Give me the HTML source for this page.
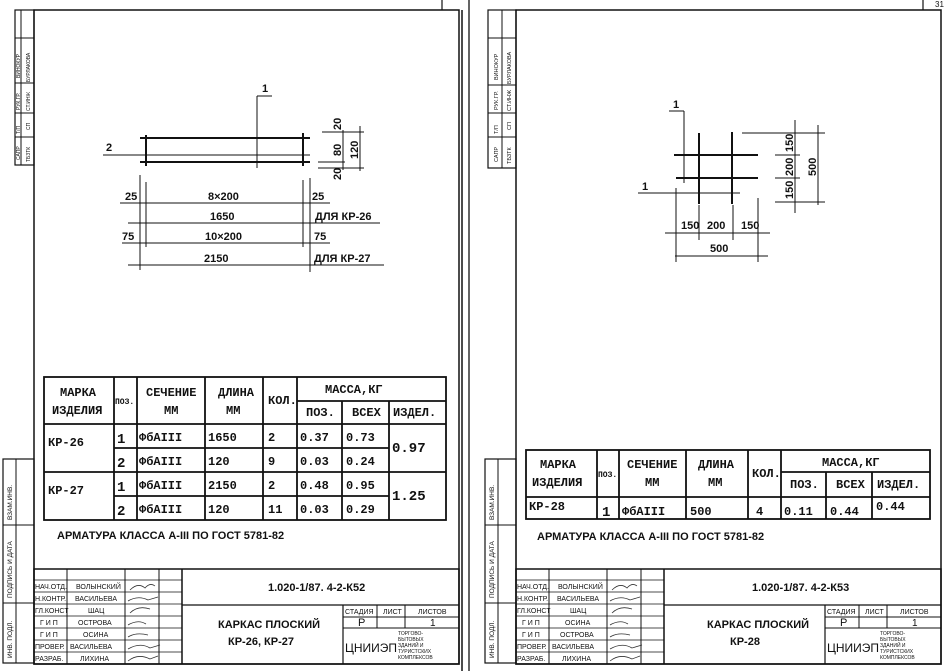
<!DOCTYPE html>
<html><head><meta charset="utf-8"><style>
html,body{margin:0;padding:0;background:#fff;}
svg{display:block;}
text{font-family:"Liberation Sans",sans-serif;fill:#111;}
.t{font-size:11px;font-weight:bold;}
.s{font-size:7px;}
text.m, .m text{font-family:"Liberation Mono",monospace;font-weight:bold;}
.m{font-size:12px;}
</style></head><body>
<svg width="950" height="671" viewBox="0 0 950 671" xmlns="http://www.w3.org/2000/svg">
<defs>
<g id="tb" stroke="#111" fill="none">
 <rect x="34" y="569" width="425" height="95" stroke-width="1.5"/>
 <line x1="182" y1="569" x2="182" y2="664" stroke-width="1.5"/>
 <line x1="67" y1="569" x2="67" y2="664" stroke-width="1"/>
 <line x1="125" y1="569" x2="125" y2="664" stroke-width="1"/>
 <line x1="159" y1="569" x2="159" y2="664" stroke-width="1"/>
 <g stroke-width="0.8">
 <line x1="34" y1="580" x2="182" y2="580"/><line x1="34" y1="592" x2="182" y2="592"/>
 <line x1="34" y1="604" x2="182" y2="604"/><line x1="34" y1="616" x2="182" y2="616"/>
 <line x1="34" y1="628" x2="182" y2="628"/><line x1="34" y1="640" x2="182" y2="640"/>
 <line x1="34" y1="652" x2="182" y2="652"/>
 </g>
 <line x1="182" y1="605" x2="459" y2="605" stroke-width="1.3"/>
 <line x1="343" y1="605" x2="343" y2="664" stroke-width="1.2"/>
 <line x1="377" y1="605" x2="377" y2="628" stroke-width="1"/>
 <line x1="405" y1="605" x2="405" y2="628" stroke-width="1"/>
 <line x1="343" y1="617" x2="459" y2="617" stroke-width="1"/>
 <line x1="343" y1="628" x2="459" y2="628" stroke-width="1"/>
 <rect x="3" y="459" width="31" height="204" stroke-width="1.2"/>
 <line x1="16" y1="459" x2="16" y2="663" stroke-width="1"/>
 <line x1="3" y1="525" x2="34" y2="525" stroke-width="1"/>
 <line x1="3" y1="603" x2="34" y2="603" stroke-width="1"/>
</g>
<g id="tbt">
 <g class="s" font-size="6.5">
 <text x="35" y="589">НАЧ.ОТД.</text><text x="35" y="601">Н.КОНТР.</text><text x="35" y="613">ГЛ.КОНСТ</text>
 <text x="40" y="625">Г И П</text><text x="40" y="637">Г И П</text><text x="35" y="649">ПРОВЕР.</text><text x="35" y="661">РАЗРАБ.</text>
 <text x="76" y="589">ВОЛЫНСКИЙ</text><text x="75" y="601">ВАСИЛЬЕВА</text><text x="88" y="613">ШАЦ</text>
 <text x="70" y="649">ВАСИЛЬЕВА</text><text x="80" y="661">ЛИХИНА</text>
 <text x="345" y="614">СТАДИЯ</text><text x="383" y="614">ЛИСТ</text><text x="418" y="614">ЛИСТОВ</text>
 </g>
 <text x="358" y="626" font-size="11">Р</text><text x="430" y="626" font-size="10">1</text>
 <text x="345" y="652" font-size="12">ЦНИИЭП</text>
 <g font-size="5"><text x="398" y="635">ТОРГОВО-</text><text x="398" y="641">БЫТОВЫХ</text><text x="398" y="647">ЗДАНИЙ И</text><text x="398" y="653">ТУРИСТСКИХ</text><text x="398" y="659">КОМПЛЕКСОВ</text></g>
 <g font-size="6.5" transform="rotate(-90)">
  <text x="-520" y="12">ВЗАМ.ИНВ.</text><text x="-598" y="12">ПОДПИСЬ И ДАТА</text><text x="-658" y="12">ИНВ. ПОДЛ.</text>
 </g>
 <g stroke="#333" fill="none" stroke-width="0.8">
  <path d="M130 590 q8 -8 15 -2 q5 -6 10 -2"/><path d="M128 601 q10 -6 20 -1 l10 -3"/>
  <path d="M130 613 q8 -8 20 -4"/><path d="M128 625 q10 -6 18 -1"/><path d="M128 637 q8 -5 20 -2"/>
  <path d="M128 649 q12 -7 22 -1 l10 -3"/><path d="M128 661 q10 -8 22 -2 l8 -3"/>
 </g>
</g>
</defs>

<!-- LEFT SHEET -->
<rect x="34" y="10" width="425" height="654" fill="none" stroke="#111" stroke-width="1.5"/>
<line x1="462" y1="10" x2="462" y2="671" stroke="#111" stroke-width="1.5"/>
<line x1="442" y1="0" x2="442" y2="10" stroke="#111" stroke-width="1.2"/>
<line x1="469" y1="0" x2="469" y2="671" stroke="#111" stroke-width="1.3"/>
<g stroke="#111" fill="none">
 <rect x="15" y="10" width="19" height="155" stroke-width="1.2"/>
 <line x1="21" y1="10" x2="21" y2="165"/>
 <line x1="15" y1="38" x2="34" y2="38"/><line x1="15" y1="83" x2="34" y2="83"/>
 <line x1="15" y1="113" x2="34" y2="113"/><line x1="15" y1="137" x2="34" y2="137"/>
</g>
<g font-size="5" transform="rotate(-90)">
 <text x="-160" y="20">САПР</text><text x="-134" y="20">Т/П</text><text x="-110" y="20">РУК.ГР.</text><text x="-78" y="20">ВИНОКУР</text>
 <text x="-162" y="30">ТБЗТК</text><text x="-130" y="30">СП</text><text x="-111" y="30">СТ.ИНЖ</text><text x="-82" y="30">БУРЛАКОВА</text>
</g>

<g stroke="#111" fill="none">
 <line x1="140" y1="138" x2="310" y2="138" stroke-width="2"/>
 <line x1="103" y1="155" x2="310" y2="155" stroke-width="1"/>
 <line x1="140" y1="162" x2="310" y2="162" stroke-width="2"/>
 <line x1="146" y1="135" x2="146" y2="166" stroke-width="2"/>
 <line x1="303" y1="133" x2="303" y2="166" stroke-width="2"/>
 <line x1="257" y1="96" x2="257" y2="168" stroke-width="1"/>
 <line x1="257" y1="96" x2="272" y2="96" stroke-width="1"/>
 <line x1="343" y1="130" x2="343" y2="170" stroke-width="1"/>
 <line x1="360" y1="126" x2="360" y2="171" stroke-width="1"/>
 <line x1="322" y1="132" x2="364" y2="132"/><line x1="318" y1="162" x2="345" y2="162"/><line x1="318" y1="168" x2="364" y2="168"/>
 <line x1="140" y1="175" x2="140" y2="270"/><line x1="146" y1="182" x2="146" y2="247"/>
 <line x1="303" y1="180" x2="303" y2="247"/><line x1="310" y1="178" x2="310" y2="272"/>
 <line x1="120" y1="203" x2="330" y2="203"/><line x1="128" y1="223" x2="380" y2="223"/>
 <line x1="122" y1="243" x2="330" y2="243"/><line x1="128" y1="265" x2="384" y2="265"/>
</g>
<text x="262" y="92" class="t">1</text><text x="106" y="151" class="t">2</text>
<g class="t" font-size="10" transform="rotate(-90)">
 <text x="-130" y="341">20</text><text x="-156" y="341">80</text><text x="-180" y="341">20</text><text x="-159" y="358">120</text>
</g>
<g class="t" font-size="10">
 <text x="125" y="200">25</text><text x="208" y="200">8×200</text><text x="312" y="200">25</text>
 <text x="210" y="220">1650</text><text x="315" y="220">ДЛЯ  КР-26</text>
 <text x="122" y="240">75</text><text x="205" y="240">10×200</text><text x="314" y="240">75</text>
 <text x="204" y="262">2150</text><text x="314" y="262">ДЛЯ  КР-27</text>
</g>

<g stroke="#111" fill="none" stroke-width="1.8">
 <rect x="44" y="377" width="402" height="143"/>
 <line x1="114" y1="377" x2="114" y2="520"/><line x1="137" y1="377" x2="137" y2="520"/>
 <line x1="205" y1="377" x2="205" y2="520"/><line x1="263" y1="377" x2="263" y2="520"/>
 <line x1="297" y1="377" x2="297" y2="520"/><line x1="342" y1="401" x2="342" y2="520"/>
 <line x1="389" y1="401" x2="389" y2="520"/>
 <line x1="297" y1="401" x2="446" y2="401"/>
 <line x1="44" y1="424" x2="446" y2="424"/>
 <line x1="44" y1="472" x2="446" y2="472"/>
 <line x1="114" y1="448" x2="389" y2="448"/><line x1="114" y1="496" x2="389" y2="496"/>
</g>
<g class="m" font-size="10.5">
 <text x="60" y="396">МАРКА</text><text x="52" y="414">ИЗДЕЛИЯ</text>
 <text x="115" y="404" font-size="8">ПОЗ.</text>
 <text x="146" y="396">СЕЧЕНИЕ</text><text x="164" y="414">ММ</text>
 <text x="218" y="396">ДЛИНА</text><text x="226" y="414">ММ</text>
 <text x="268" y="404">КОЛ.</text><text x="325" y="393">МАССА,КГ</text>
 <text x="306" y="416">ПОЗ.</text><text x="352" y="416">ВСЕХ</text><text x="393" y="416">ИЗДЕЛ.</text>
 <text x="48" y="446">КР-26</text><text x="48" y="494">КР-27</text>
</g>
<g class="m">
 <text x="117" y="443" font-size="14">1</text><text x="117" y="467" font-size="14">2</text>
 <text x="117" y="491" font-size="14">1</text><text x="117" y="515" font-size="14">2</text>
 <text x="139" y="441">ФбАIII</text><text x="139" y="465">ФбАIII</text><text x="139" y="489">ФбАIII</text><text x="139" y="513">ФбАIII</text>
 <text x="208" y="441">1650</text><text x="208" y="465">120</text><text x="208" y="489">2150</text><text x="208" y="513">120</text>
 <text x="268" y="441">2</text><text x="268" y="465">9</text><text x="268" y="489">2</text><text x="268" y="513">11</text>
 <text x="300" y="441">0.37</text><text x="300" y="465">0.03</text><text x="300" y="489">0.48</text><text x="300" y="513">0.03</text>
 <text x="346" y="441">0.73</text><text x="346" y="465">0.24</text><text x="346" y="489">0.95</text><text x="346" y="513">0.29</text>
 <text x="392" y="452" font-size="14">0.97</text><text x="392" y="500" font-size="14">1.25</text>
</g>
<text x="57" y="539" class="t" font-size="10">АРМАТУРА КЛАССА А-III  ПО ГОСТ 5781-82</text>

<use href="#tb"/><use href="#tbt"/>
<g class="s" font-size="6.5"><text x="78" y="625">ОСТРОВА</text><text x="83" y="637">ОСИНА</text></g>
<text x="268" y="591" class="t" font-size="9.5">1.020-1/87.  4-2-К52</text>
<text x="218" y="628" class="t" font-size="9.5">КАРКАС  ПЛОСКИЙ</text>
<text x="228" y="645" class="t" font-size="9.5">КР-26, КР-27</text>

<!-- RIGHT SHEET -->
<rect x="516" y="10" width="425" height="654" fill="none" stroke="#111" stroke-width="1.5"/>
<line x1="923" y1="0" x2="923" y2="10" stroke="#111" stroke-width="1.2"/>
<text x="935" y="7" font-size="8">31</text>
<g stroke="#111" fill="none">
 <rect x="488" y="10" width="28" height="158" stroke-width="1.2"/>
 <line x1="502" y1="10" x2="502" y2="168"/>
 <line x1="488" y1="38" x2="516" y2="38"/><line x1="488" y1="85" x2="516" y2="85"/>
 <line x1="488" y1="113" x2="516" y2="113"/><line x1="488" y1="137" x2="516" y2="137"/>
</g>
<g font-size="5.5" transform="rotate(-90)">
 <text x="-162" y="498">САПР</text><text x="-134" y="498">Т/П</text><text x="-110" y="498">РУК.ГР.</text><text x="-80" y="498">ВИНОКУР</text>
 <text x="-164" y="511">ТБЗТК</text><text x="-130" y="511">СП</text><text x="-111" y="511">СТ.ИНЖ</text><text x="-84" y="511">БУРЛАКОВА</text>
</g>

<g stroke="#111" fill="none">
 <line x1="674" y1="155" x2="758" y2="155" stroke-width="2"/>
 <line x1="676" y1="178" x2="758" y2="178" stroke-width="2"/>
 <line x1="699" y1="133" x2="699" y2="204" stroke-width="2"/>
 <line x1="732" y1="132" x2="732" y2="204" stroke-width="2"/>
 <line x1="669" y1="111" x2="684" y2="111" stroke-width="1"/><line x1="684" y1="111" x2="684" y2="183" stroke-width="1"/>
 <line x1="638" y1="193" x2="740" y2="193" stroke-width="1"/>
 <line x1="795" y1="120" x2="795" y2="213"/><line x1="818" y1="125" x2="818" y2="205"/>
 <line x1="742" y1="133" x2="825" y2="133"/><line x1="775" y1="155" x2="800" y2="155"/>
 <line x1="775" y1="178" x2="800" y2="178"/><line x1="775" y1="202" x2="825" y2="202"/>
 <line x1="676" y1="188" x2="676" y2="262"/><line x1="699" y1="205" x2="699" y2="240"/>
 <line x1="733" y1="205" x2="733" y2="240"/><line x1="758" y1="198" x2="758" y2="262"/>
 <line x1="665" y1="233" x2="770" y2="233"/><line x1="675" y1="256" x2="768" y2="256"/>
</g>
<text x="673" y="108" class="t">1</text><text x="642" y="190" class="t">1</text>
<g class="t" font-size="10" transform="rotate(-90)">
 <text x="-152" y="793">150</text><text x="-176" y="793">200</text><text x="-199" y="793">150</text><text x="-176" y="816">500</text>
</g>
<g class="t" font-size="10">
 <text x="681" y="229">150</text><text x="707" y="229">200</text><text x="741" y="229">150</text><text x="710" y="252">500</text>
</g>

<g stroke="#111" fill="none" stroke-width="1.8">
 <rect x="526" y="450" width="404" height="69"/>
 <line x1="597" y1="450" x2="597" y2="519"/><line x1="619" y1="450" x2="619" y2="519"/>
 <line x1="686" y1="450" x2="686" y2="519"/><line x1="748" y1="450" x2="748" y2="519"/>
 <line x1="781" y1="450" x2="781" y2="519"/><line x1="826" y1="472" x2="826" y2="519"/>
 <line x1="872" y1="472" x2="872" y2="519"/>
 <line x1="781" y1="472" x2="930" y2="472"/><line x1="526" y1="497" x2="930" y2="497"/>
</g>
<g class="m" font-size="10.5">
 <text x="540" y="468">МАРКА</text><text x="532" y="486">ИЗДЕЛИЯ</text>
 <text x="598" y="477" font-size="8">ПОЗ.</text>
 <text x="627" y="468">СЕЧЕНИЕ</text><text x="645" y="486">ММ</text>
 <text x="698" y="468">ДЛИНА</text><text x="708" y="486">ММ</text>
 <text x="752" y="477">КОЛ.</text><text x="822" y="466">МАССА,КГ</text>
 <text x="790" y="488">ПОЗ.</text><text x="836" y="488">ВСЕХ</text><text x="877" y="488">ИЗДЕЛ.</text>
 <text x="529" y="510">КР-28</text>
</g>
<g class="m">
 <text x="602" y="516" font-size="14">1</text><text x="622" y="515">ФбАIII</text><text x="690" y="515">500</text>
 <text x="756" y="515">4</text><text x="784" y="515">0.11</text><text x="830" y="515">0.44</text><text x="876" y="510">0.44</text>
</g>
<text x="537" y="540" class="t" font-size="10">АРМАТУРА КЛАССА А-III ПО ГОСТ 5781-82</text>

<use href="#tb" transform="translate(482,0)"/>
<use href="#tbt" transform="translate(482,0)"/>
<g class="s" font-size="6.5"><text x="565" y="625">ОСИНА</text><text x="560" y="637">ОСТРОВА</text></g>
<text x="752" y="591" class="t" font-size="9.5">1.020-1/87.  4-2-К53</text>
<text x="707" y="628" class="t" font-size="9.5">КАРКАС ПЛОСКИЙ</text>
<text x="730" y="645" class="t" font-size="9.5">КР-28</text>
</svg>
</body></html>
